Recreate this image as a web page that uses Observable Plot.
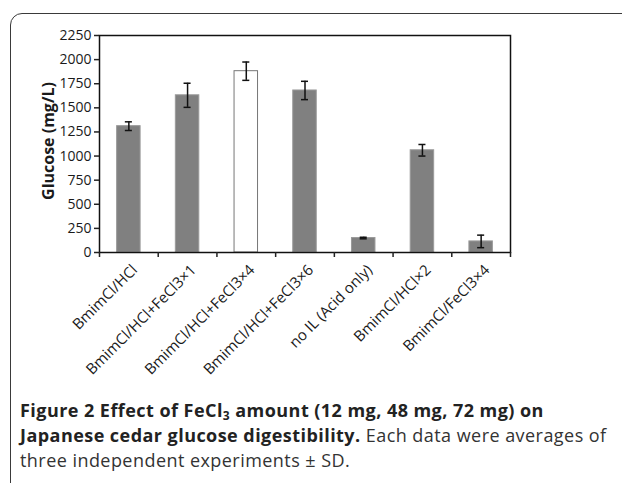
<!DOCTYPE html>
<html><head><meta charset="utf-8">
<script src="https://cdn.jsdelivr.net/npm/d3@7"></script>
<script src="https://cdn.jsdelivr.net/npm/@observablehq/plot@0.6"></script>
<style>
body{margin:0;background:#fff;width:622px;height:483px;overflow:hidden;position:relative;font-family:"Open Sans",sans-serif}
#frame{position:absolute;left:10px;top:13px;width:640px;height:520px;border:1.5px solid #3a3a3a;border-radius:12px 0 0 0;}
#chart{position:absolute;left:0;top:0}
#cap{position:absolute;left:20px;top:398px;width:600px;font-size:18px;letter-spacing:0.45px;line-height:25px;color:#333;white-space:nowrap}
#cap b{color:#222}
#cap sub{font-size:12px;vertical-align:-3px;line-height:0}
</style></head><body>
<div id="frame"></div><div id="chart"></div>
<div id="cap"><b>Figure 2 Effect of FeCl<sub>3</sub> amount (12 mg, 48 mg, 72 mg) on</b><br><b>Japanese cedar glucose digestibility.</b> Each data were averages of<br>three independent experiments ± SD.</div>
<script>
const categories = ["BmimCl/HCl","BmimCl/HCl+FeCl3×1","BmimCl/HCl+FeCl3×4","BmimCl/HCl+FeCl3×6","no IL (Acid only)","BmimCl/HCl×2","BmimCl/FeCl3×4"];
const glucose = [1310, 1630, 1880, 1680, 150, 1060, 115];
const sd = [45, 125, 95, 95, 8, 60, 65];
const yTicks = [0,250,500,750,1000,1250,1500,1750,2000,2250];
const highlighted = "BmimCl/HCl+FeCl3×4";

const data = categories.map((c,i)=>({c, i, v: glucose[i], sd: sd[i]}));

const chart = Plot.plot({
  width: 622, height: 390,
  marginLeft: 99, marginRight: 112, marginTop: 35, marginBottom: 138,
  style: {fontFamily: "Open Sans, sans-serif", color: "#222", background: "transparent"},
  x: {type: "linear", domain: [0, categories.length]},
  y: {domain: [0, 2250]},
  marks: [
    Plot.rectY(data, {x1: d=>d.i+0.3, x2: d=>d.i+0.7, y: "v", fill: d=>d.c===highlighted?"#fff":"#808080", stroke: d=>d.c===highlighted?"#777":"#9a9a9a", strokeWidth: 1}),
    Plot.ruleX(data, {x: d=>d.i+0.5, y1: d=>d.v-d.sd, y2: d=>d.v+d.sd, stroke: "#111", strokeWidth: 1.5}),
    Plot.ruleY(data, {y: d=>d.v+d.sd, x1: d=>d.i+0.44, x2: d=>d.i+0.56, stroke: "#111", strokeWidth: 1.5}),
    Plot.ruleY(data, {y: d=>d.v-d.sd, x1: d=>d.i+0.44, x2: d=>d.i+0.56, stroke: "#111", strokeWidth: 1.5}),
    Plot.frame({stroke: "#111", strokeWidth: 1.5}),
    Plot.axisY({ticks: yTicks, tickSize: 5, tickPadding: 3, tickFormat: d=>String(d), label: null, strokeWidth: 1.5, fontSize: 14, fill: "#1a1a1a"}),
    Plot.axisX({ticks: d3.range(0, categories.length+1), tickSize: 5, tickFormat: ()=>"", label: null, strokeWidth: 1.5}),
    Plot.text(data, {x: d=>d.i+0.5, y: 0, text: "c", rotate: -45, textAnchor: "end", dx: 6, dy: 15, fontSize: 15, fill: "#1a1a1a"}),
    Plot.text(["Glucose (mg/L)"], {frameAnchor: "left", textAnchor: "middle", text: d=>d, rotate: -90, dx: -51, dy: -3, fontWeight: "bold", fontSize: 16, fill: "#1a1a1a"})
  ]
});
document.getElementById("chart").appendChild(chart);
</script>
</body></html>
